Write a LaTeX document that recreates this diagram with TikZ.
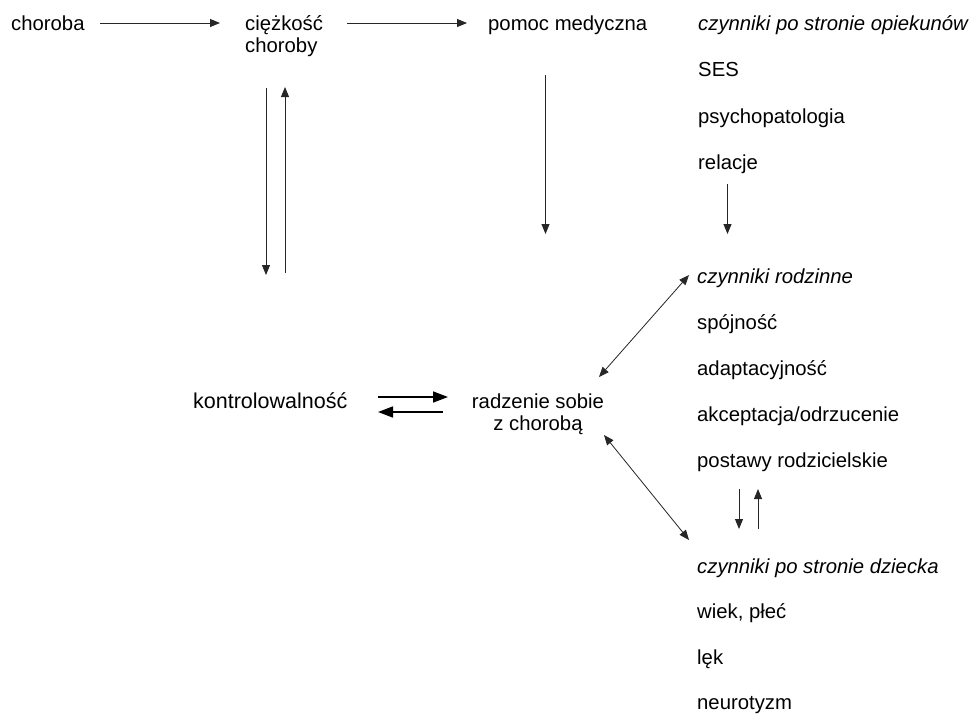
\documentclass[tikz,border=0pt]{standalone}
\usepackage{fontspec}
\setmainfont{Liberation Sans}
\usetikzlibrary{arrows.meta}
\tikzset{
  lbl/.style={anchor=base west,inner sep=0pt,font=\fontsize{20.3}{23}\selectfont},
  lblc/.style={anchor=base,inner sep=0pt,align=center,font=\fontsize{20.3}{22}\selectfont},
  conn/.style={line width=0.9pt,draw=black!85,-{Triangle[length=10pt,width=8pt]}},
  dconn/.style={line width=0.8pt,draw=black!85,{Triangle[length=10pt,width=8pt]}-{Triangle[length=10pt,width=8pt]}},
  bconn/.style={line width=1.6pt,draw=black,-{Triangle[length=15pt,width=11pt]}}
}
\begin{document}
\begin{tikzpicture}[x=1pt,y=-1pt]
\useasboundingbox (0,0) rectangle (971,713);
% top row
\node[lbl] (chor) at (11,30) {choroba};
\node[lbl] (ciez) at (245,30) {ciężkość};
\node[lbl] (ciez2) at (245,52) {choroby};
\node[lbl] (pomoc) at (488,30) {pomoc medyczna};
% caregivers
\node[lbl] (opie) at (698,30) {\itshape czynniki po stronie opiekunów};
\node[lbl] (ses) at (698,76) {SES};
\node[lbl] (psy) at (698,123) {psychopatologia};
\node[lbl] (rel) at (698,169) {relacje};
% family
\node[lbl] (rodz) at (697,283) {\itshape czynniki rodzinne};
\node[lbl] (spoj) at (697,329) {spójność};
\node[lbl] (adap) at (697,375) {adaptacyjność};
\node[lbl] (akc) at (697,421) {akceptacja/odrzucenie};
\node[lbl] (post) at (697,467) {postawy rodzicielskie};
% child
\node[lbl] (dz) at (697,573) {\itshape czynniki po stronie dziecka};
\node[lbl] (wiek) at (697,618.5) {wiek, płeć};
\node[lbl] (lek) at (697,664) {lęk};
\node[lbl] (neur) at (697,709.5) {neurotyzm};
% middle
\node[lbl,font=\fontsize{21.5}{23}\selectfont] (kontr) at (193,408) {kontrolowalność};
\node[lblc] (radz) at (538,430) {radzenie sobie\\z chorobą};
% coordinates
\coordinate (a1s) at (100,23); \coordinate (a1e) at (220,23);
\coordinate (a2s) at (347,23); \coordinate (a2e) at (467,23);
\coordinate (v1s) at (266,88); \coordinate (v1e) at (266,275);
\coordinate (v2s) at (285,273); \coordinate (v2e) at (285,87);
\coordinate (pms) at (545.5,75); \coordinate (pme) at (545.5,234);
\coordinate (rls) at (727.5,184); \coordinate (rle) at (727.5,234);
\coordinate (d1a) at (599,377); \coordinate (d1b) at (689,275);
\coordinate (d2a) at (604,435); \coordinate (d2b) at (689,540);
\coordinate (s1s) at (739,489); \coordinate (s1e) at (739,529);
\coordinate (s2s) at (758,529); \coordinate (s2e) at (758,489);
\coordinate (k1s) at (378,397); \coordinate (k1e) at (448,397);
\coordinate (k2s) at (443,412); \coordinate (k2e) at (378,412);
% connectors
\draw[conn] (a1s) -- (a1e);
\draw[conn] (a2s) -- (a2e);
\draw[conn] (v1s) -- (v1e);
\draw[conn] (v2s) -- (v2e);
\draw[conn] (pms) -- (pme);
\draw[conn] (rls) -- (rle);
\draw[dconn] (d1a) -- (d1b);
\draw[dconn] (d2a) -- (d2b);
\draw[conn] (s1s) -- (s1e);
\draw[conn] (s2s) -- (s2e);
\draw[bconn] (k1s) -- (k1e);
\draw[bconn] (k2s) -- (k2e);
\end{tikzpicture}
\end{document}
